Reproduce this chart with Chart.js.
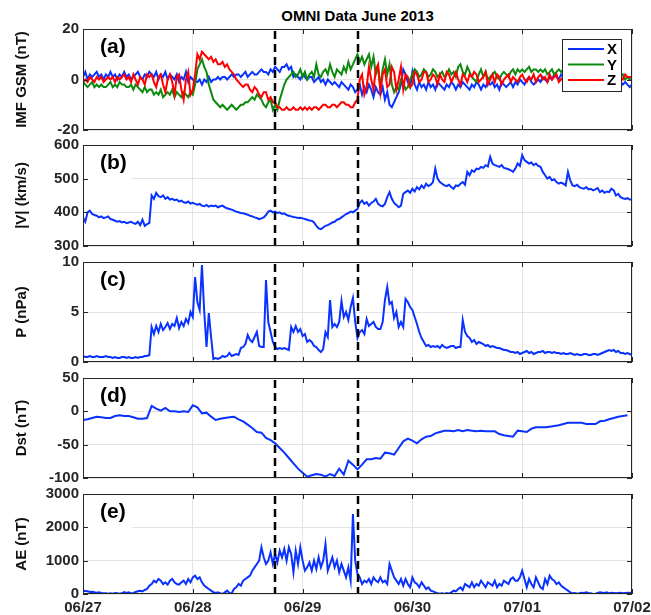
<!DOCTYPE html>
<html>
<head>
<meta charset="utf-8">
<script src="https://cdn.jsdelivr.net/npm/chart.js@4.4.0/dist/chart.umd.min.js"></script>
<style>
  html, body { margin: 0; padding: 0; background: #fff; }
  #wrap { position: relative; width: 651px; height: 615px; overflow: hidden; }
  .panel { position: absolute; left: 0; width: 651px; }
  #title { position: absolute; top: 7px; left: 83px; width: 549px; text-align: center;
           font: bold 15px "Liberation Sans", Arial, sans-serif; color: #000; }
</style>
</head>
<body>
<div id="wrap">
  <div id="title">OMNI Data June 2013</div>
  <div class="panel" id="pa"><canvas id="ca"></canvas></div>
  <div class="panel" id="pb"><canvas id="cb"></canvas></div>
  <div class="panel" id="pc"><canvas id="cc"></canvas></div>
  <div class="panel" id="pd"><canvas id="cd"></canvas></div>
  <div class="panel" id="pe"><canvas id="ce"></canvas></div>
</div>
<script>
// time axis in hours from 06/27 00:00
const dayLabels = ['06/27', '06/28', '06/29', '06/30', '07/01', '07/02']
const eventHours = [42, 60]   // dashed lines: 06/28 18:00 and 06/29 12:00

// half-hourly samples (10 per row = 5 hours)
const imfX = [
  1, 3, 0, 2, 1, 2, 3, 1, 2, 0,
  2, 1, 3, 1, 2, 0, 2, 1, 3, 1,
  2, 0, 1, 2, 3, 1, 0, 2, 1, 3,
  2, 1, 3, 0, 2, 1, 3, 0, 2, 1,
  0, 2, -1, 1, 0, 3, -1, 1, 0, -1,
  -1, 0, -2, 0, -1, 1, -1, 0, 0, 1,
  0, 1, 1, 0, 1, 2, 1, 2, 2, 1,
  2, 3, 1, 2, 3, 2, 2, 3, 4, 3,
  3, 2, 4, 3, 5, 4, 3, 5, 5, 6,
  4, 5, 1, 2, 1, 0, 2, 1, 0, 1,
  1, -1, 0, 1, -1, 0, -2, 0, -1, -2,
  -1, -2, -3, -1, -2, -3, -4, -2, -3, -5,
  -4, -2, -6, -3, -5, -2, -4, -7, -3, -5,
  -6, -3, -8, -5, -10, -11, -9, -7, -5, -2,
  4, 2, -1, -3, 3, -2, -4, -1, -3, -2,
  -4, -1, -3, -2, -4, -1, -2, -3, -4, -2,
  -3, -1, -2, -4, -2, -3, -1, -2, -3, -4,
  -2, -3, -1, -2, -4, -2, -3, -1, -2, -1,
  -3, -2, -4, -1, -2, -3, -2, -1, -3, -1,
  -2, 0, -1, -2, 0, 1, -1, -2, -1, 0,
  -1, 1, 0, -1, 1, 0, 2, 1, 0, 2,
  1, 3, 0, 1, 2, 0, -1, 1, 0, -1,
  1, -1, 0, 1, -1, 0, 1, -1, 0, -1,
  -1, -2, 0, -1, -2, -1, -2, -1, -2, -3,
  -2
]
const imfY = [
  -1, -2, -3, -2, -1, -3, -2, -3, -2, -3,
  -3, -2, -1, -3, -2, -3, -1, -2, -2, -3,
  -3, -2, -4, -2, -3, -4, -5, -3, -5, -4,
  -4, -6, -5, -6, -4, -7, -6, -5, -6, -4,
  -7, -5, -6, -7, -5, -6, -7, -5, -6, -2,
  4, 6, 8, 5, 3, -2, -5, -8, -9, -10,
  -11, -10, -11, -12, -11, -10, -11, -12, -11, -10,
  -10, -9, -9, -8, -7, -8, -6, -7, -8, -10,
  -11, -9, -8, -12, -10, -12, -8, -5, -2, 0,
  1, 2, 3, 1, 2, 4, 1, 3, 0, 2,
  3, 1, 6, 2, 1, 3, 4, 2, 6, 3,
  1, 4, 3, 2, 5, 3, 7, 4, 6, 8,
  10, 7, 9, 6, 8, 10, 5, 9, 2, 5,
  -3, 4, 8, 2, 6, -2, -5, -3, -4, 0,
  -1, -4, -3, 0, 2, 4, 3, 1, 2, 4,
  3, 1, 2, 4, 3, 1, 2, 3, 1, 2,
  4, 2, 3, 1, 5, 6, 3, 2, 5, 3,
  1, 0, -1, 2, 4, 1, 3, 0, 1, 2,
  3, 1, 0, 2, 3, 2, 1, 3, 4, 2,
  4, 3, 4, 3, 4, 5, 3, 4, 4, 3,
  4, 3, 4, 2, 3, 4, 2, 3, 4, 3,
  4, 3, 3, 2, 4, 3, 2, 3, 3, 2,
  1, 2, 1, 0, 2, 1, 2, 1, 0, 1,
  0, 1, 2, 1, 0, 1, 2, 0, 1, 0,
  0
]
const imfZ = [
  -1, 0, -1, 1, 0, -1, 1, 0, 1, -1,
  0, 1, 0, 1, -1, 1, 0, 1, 2, 0,
  1, -1, 2, 0, -2, 1, 0, -2, 2, 1,
  2, -1, -3, 1, 2, -2, -5, 0, 2, -1,
  -6, 1, 2, -4, -8, 0, 3, -6, -4, 2,
  10, 8, 11, 10, 9, 8, 9, 7, 8, 6,
  6, 7, 5, 6, 4, 3, 2, 0, -1, -2,
  -3, -2, -2, -4, -5, -3, -4, -6, -7, -5,
  -5, -8, -7, -9, -9, -11, -11, -12, -12, -11,
  -12, -12, -11, -12, -12, -11, -12, -11, -12, -11,
  -12, -11, -11, -12, -11, -10, -10, -11, -11, -10,
  -10, -11, -10, -9, -9, -10, -10, -11, -11, -9,
  -8, 0, 2, -6, -3, 5, 0, -4, 4, 6,
  -5, 2, 4, -3, -2, 5, 3, -4, 0, 5,
  -4, 2, 1, -3, -2, 3, 2, -1, 0, 3,
  3, -1, 0, 2, 1, -2, 2, 0, -1, 3,
  2, -1, 1, 3, 0, -2, 2, 1, -1, 2,
  1, 3, 2, -1, 0, 1, 3, -2, 0, 2,
  -1, 2, 1, -2, 0, 1, 2, -1, 1, 0,
  -1, 1, 2, 0, -1, 1, 0, 2, -1, 1,
  2, 0, 1, -1, 2, 0, 1, 2, -1, 0,
  1, -1, 0, 2, 1, -1, 0, 1, -1, 0,
  1, 0, -1, 0, 1, 0, 2, -1, 0, 1,
  2, 1, 0, 1, 2, 1, 0, 2, 1, 1,
  1
]
const speed = [
  385, 372, 400, 405, 395, 392, 390, 385, 388, 383,
  385, 388, 380, 378, 375, 372, 374, 370, 372, 368,
  370, 372, 368, 366, 372, 362, 378, 360, 365, 368,
  450, 440, 458, 448, 445, 450, 440, 445, 438, 440,
  436, 438, 432, 435, 430, 428, 432, 426, 428, 425,
  423, 425, 420, 418, 422, 417, 420, 418, 420, 415,
  418, 420, 415, 412, 410, 408, 405, 402, 400, 398,
  397, 395, 393, 390, 388, 385, 383, 380, 382, 385,
  392, 402, 405, 400, 402, 398, 400, 395, 397, 392,
  390, 388, 386, 385, 383, 384, 382, 380, 378, 376,
  375, 370, 360, 352, 350, 355, 360, 362, 366, 370,
  372, 378, 380, 385, 390, 395, 398, 402, 400, 405,
  410, 428, 435, 425, 430, 420, 428, 432, 440, 425,
  420, 418, 425, 445, 460, 440, 428, 422, 415, 420,
  455, 460, 465, 458, 470, 462, 475, 468, 480, 472,
  485, 478, 482, 490, 530, 500, 490, 485, 480, 478,
  482, 475, 470, 480, 478, 485, 490, 482, 520, 510,
  525, 520, 530, 528, 535, 532, 540, 536, 565, 545,
  540, 538, 535, 540, 532, 530, 528, 525, 520, 530,
  545, 538, 570, 555, 550, 545, 548, 540, 545, 538,
  535, 520, 510, 500, 505, 495, 498, 490, 485, 488,
  485, 480, 520, 495, 480, 478, 482, 475, 472, 470,
  475, 468, 470, 465, 468, 472, 460, 465, 458, 462,
  460, 470, 465, 450, 455, 445, 442, 440, 442, 438,
  438
]
const pressure = [
  0.6, 0.5, 0.5, 0.6, 0.5, 0.5, 0.6, 0.5, 0.5, 0.5,
  0.6, 0.5, 0.5, 0.4, 0.5, 0.4, 0.4, 0.5, 0.5, 0.4,
  0.5, 0.4, 0.4, 0.5, 0.4, 0.5, 0.5, 0.6, 0.6, 0.7,
  3.5, 2.8, 3.6, 3.0, 3.8, 3.2, 3.5, 3.9, 3.3, 3.8,
  3.6, 4.4, 3.4, 4.0, 3.6, 4.3, 3.9, 5.0, 4.5, 8.5,
  6.0, 5.2, 9.7, 5.0, 1.5, 4.9, 2.5, 0.3, 0.4, 0.3,
  0.4, 0.6, 0.5, 0.6, 0.9, 0.6, 0.7, 0.8, 0.7, 1.4,
  1.5, 1.8, 2.7, 2.2, 2.0, 2.5, 3.0, 1.6, 1.5, 1.5,
  8.2, 4.0, 3.0, 2.0, 1.5, 1.3, 1.4, 1.3, 1.4, 1.3,
  1.2, 3.5, 3.0, 3.6, 3.0, 3.3, 2.6, 2.8, 2.0, 2.2,
  2.0, 1.6, 1.5, 1.2, 1.0, 1.3, 3.0, 2.5, 6.2, 3.5,
  3.8, 3.5, 4.0, 6.1, 4.5, 5.0, 4.2, 5.5, 6.4, 4.0,
  2.4, 3.0, 3.2, 2.8, 4.3, 3.6, 3.8, 4.0, 3.5, 3.3,
  3.3, 4.0, 6.2, 7.5, 5.8, 6.0, 4.4, 5.0, 3.5, 4.0,
  3.5, 6.3, 6.0, 5.5, 5.2, 4.5, 3.8, 3.0, 2.4, 2.0,
  1.6, 1.7, 1.5, 1.6, 1.5, 1.6, 1.4, 1.7, 1.5, 1.4,
  1.5, 1.6, 1.6, 1.4, 1.5, 1.5, 4.2, 3.0, 2.6, 2.4,
  2.0, 2.2, 1.8, 2.0, 1.9, 1.8, 1.6, 1.7, 1.5, 1.6,
  1.5, 1.4, 1.4, 1.3, 1.2, 1.2, 1.1, 1.0, 1.0, 0.9,
  1.0, 0.8, 0.9, 1.0, 1.1, 0.9, 1.0, 0.8, 0.9, 1.0,
  1.0, 1.1, 0.9, 1.0, 1.0, 0.9, 1.0, 0.9, 0.9, 0.8,
  0.9, 0.8, 0.8, 0.9, 0.8, 0.7, 0.8, 0.7, 0.7, 0.8,
  0.8, 0.7, 0.7, 0.8, 0.8, 0.7, 0.8, 0.9, 1.0, 1.1,
  1.2, 1.1, 1.2, 1.0, 1.1, 0.9, 0.9, 0.8, 0.9, 0.8,
  0.7
]
const ae = [
  100, 90, 80, 60, 70, 50, 40, 50, 30, 20,
  20, 10, 20, 10, 30, 20, 10, 20, 60, 30,
  50, 20, 30, 60, 80, 100, 80, 120, 150, 250,
  300, 400, 350, 450, 400, 300, 350, 280, 400, 450,
  350, 300, 280, 350, 400, 300, 450, 350, 500, 550,
  450, 500, 350, 250, 200, 150, 100, 50, 30, 50,
  20, 0, 50, 100, 30, 20, 150, 200, 300, 250,
  400, 450, 500, 550, 700, 800, 900, 1000, 1400, 1100,
  900, 1000, 1250, 900, 1200, 950, 1300, 1100, 1350, 1000,
  1400, 1200, 650, 1300, 900, 1400, 1000, 700, 800, 950,
  700, 1000, 750, 1100, 800, 1000, 1500, 700, 900, 1100,
  800, 1000, 650, 900, 700, 500, 800, 400, 2400, 1000,
  600, 500, 300, 400, 350, 450, 300, 500, 400, 350,
  500, 350, 400, 300, 900, 700, 500, 400, 300, 450,
  250, 450, 300, 200, 500, 350, 300, 200, 350, 250,
  150, 200, 100, 80, 50, 20, 10, 20, 0, 30,
  10, 50, 100, 80, 150, 200, 120, 300, 250, 200,
  350, 200, 300, 250, 400, 300, 200, 350, 300, 250,
  400, 200, 300, 250, 400, 350, 300, 450, 500, 400,
  400, 500, 700, 450, 200, 450, 300, 200, 500, 350,
  200, 150, 450, 300, 550, 450, 400, 300, 350, 250,
  200, 150, 100, 50, 20, 30, 10, 20, 40, 30,
  50, 30, 20, 0, 10, 30, 50, 40, 30, 50,
  20, 40, 30, 20, 30, 40, 20, 30, 40, 30,
  50
]
// hourly Dst
const dst = [
  -13, -12, -10, -8, -9, -10, -10, -7, -6, -7,
  -7, -9, -11, -11, -10, 8, 4, 1, 5, 0,
  0, -1, 0, -1, 9, 6, -3, -2, -8, -13,
  -11, -10, -9, -8, -12, -15, -20, -25, -31, -32,
  -40, -43, -48, -55, -62, -70, -78, -86, -92, -98,
  -96, -94, -95, -98, -94, -97, -86, -95, -74, -80,
  -87, -80, -72, -72, -70, -71, -62, -63, -65, -55,
  -45, -41, -44, -48, -42, -38, -37, -33, -31, -29,
  -29, -30, -28, -30, -28, -29, -30, -29, -30, -30,
  -30, -34, -36, -37, -38, -29, -30, -31, -26, -24,
  -24, -24, -23, -22, -21, -19, -17, -17, -17, -17,
  -19, -19, -19, -15, -14, -12, -10, -8, -7, -6
]

const halfHours = imfX.map((v, i) => i / 2)
const hours = dst.map((v, i) => i)

const BLUE = '#0a32ff'
const GREEN = '#0b8a0b'
const RED = '#ff0000'
const INK = '#262626'
const FONT = '"Liberation Sans", Arial, sans-serif'

Chart.defaults.font.family = FONT
Chart.defaults.font.size = 15
Chart.defaults.font.weight = 'bold'
Chart.defaults.color = INK

// frame, inward ticks, dashed event lines, panel letter, legend
const decor = {
  id: 'decor',
  beforeDatasetsDraw(chart) {
    const a = chart.chartArea
    const ctx = chart.ctx
    ctx.save()
    ctx.fillStyle = '#fff'
    ctx.fillRect(a.left + 1, a.top + 1, 48, 36)
    ctx.restore()
  },
  afterDatasetsDraw(chart, args, opts) {
    const a = chart.chartArea
    const ctx = chart.ctx
    const x = chart.scales.x
    const y = chart.scales.y
    ctx.save()

    // dashed lines
    ctx.strokeStyle = '#000'
    ctx.lineWidth = 2.5
    ctx.setLineDash([8, 5])
    eventHours.forEach(h => {
      const px = Math.round(x.getPixelForValue(h))
      ctx.beginPath()
      ctx.moveTo(px, a.top + 2)
      ctx.lineTo(px, a.bottom)
      ctx.stroke()
    })
    ctx.setLineDash([])

    // panel letter
    ctx.fillStyle = '#000'
    ctx.font = 'bold 21px ' + FONT
    ctx.textBaseline = 'middle'
    ctx.textAlign = 'left'
    ctx.fillText(opts.letter, a.left + 17, a.top + 18)

    // legend
    if (opts.legend) {
      const ds = chart.data.datasets
      const lx = a.right - 70, ly = a.top + 10
      ctx.fillStyle = '#fff'
      ctx.fillRect(lx, ly, 59, 52)
      ctx.strokeStyle = INK
      ctx.lineWidth = 1
      ctx.strokeRect(lx + 0.5, ly + 0.5, 59, 52)
      ctx.font = 'bold 15px ' + FONT
      ds.forEach((d, i) => {
        const yy = ly + 10 + i * 15.5
        ctx.strokeStyle = d.borderColor
        ctx.lineWidth = 2
        ctx.beginPath()
        ctx.moveTo(lx + 6, yy)
        ctx.lineTo(lx + 42, yy)
        ctx.stroke()
        ctx.fillStyle = '#000'
        ctx.fillText(d.label, lx + 45, yy + 1)
      })
    }

    // frame
    ctx.strokeStyle = INK
    ctx.lineWidth = 1
    ctx.strokeRect(a.left + 0.5, a.top + 0.5, a.width - 1, a.height - 1)

    // inward ticks
    ctx.beginPath()
    x.ticks.forEach(t => {
      const px = Math.round(x.getPixelForValue(t.value)) + 0.5
      ctx.moveTo(px, a.top); ctx.lineTo(px, a.top + 5)
      ctx.moveTo(px, a.bottom); ctx.lineTo(px, a.bottom - 5)
    })
    y.ticks.forEach(t => {
      const py = Math.round(y.getPixelForValue(t.value)) + 0.5
      ctx.moveTo(a.left, py); ctx.lineTo(a.left + 5, py)
      ctx.moveTo(a.right, py); ctx.lineTo(a.right - 5, py)
    })
    ctx.stroke()
    ctx.restore()
  }
}

function makePanel(id, top, bottom, times, datasets, yMin, yMax, yStep, yTitle, letter, showX, legend) {
  const padTop = 10
  const xH = showX ? 24 : 0
  const padBottom = showX ? 0 : 10
  const h = (bottom - top) + padTop + padBottom + xH
  const box = document.getElementById('p' + id)
  box.style.top = (top - padTop) + 'px'
  box.style.height = h + 'px'
  const cv = document.getElementById('c' + id)
  cv.width = 651
  cv.height = h

  return new Chart(cv.getContext('2d'), {
    type: 'line',
    data: { labels: times, datasets: datasets },
    plugins: [decor],
    options: {
      responsive: false,
      animation: false,
      events: [],
      layout: { padding: { top: padTop, bottom: padBottom, left: 0, right: 19 } },
      elements: { point: { radius: 0 }, line: { borderWidth: 2, tension: 0 } },
      plugins: {
        legend: { display: false },
        tooltip: { enabled: false },
        decor: { letter: letter, legend: legend }
      },
      scales: {
        x: {
          type: 'linear',
          min: 0,
          max: 120,
          border: { display: false },
          grid: { color: '#e4e4e4', drawTicks: false },
          ticks: {
            display: showX,
            stepSize: 24,
            padding: 5,
            color: INK,
            maxRotation: 0,
            callback: v => dayLabels[v / 24]
          },
          afterFit: s => { s.height = xH; s.paddingLeft = 0; s.paddingRight = 0 }
        },
        y: {
          min: yMin,
          max: yMax,
          border: { display: false },
          grid: { color: '#e4e4e4', drawTicks: false },
          ticks: { stepSize: yStep, padding: 4, color: INK, callback: v => String(v) },
          title: { display: true, text: yTitle, color: '#111', font: { size: 15, weight: 'bold' }, padding: { top: 13, bottom: 0 } },
          afterFit: s => { s.width = 83; s.paddingTop = 0; s.paddingBottom = 0 }
        }
      }
    }
  })
}

const line = (label, data, color, order) => ({ label, data, borderColor: color, backgroundColor: color, order })

makePanel('a', 29, 130, halfHours, [
  line('X', imfX, BLUE, 3),
  line('Y', imfY, GREEN, 2),
  line('Z', imfZ, RED, 1)
], -20, 20, 20, 'IMF GSM (nT)', '(a)', false, true)

makePanel('b', 145, 246, halfHours, [line('V', speed, BLUE, 1)], 300, 600, 100, '|V| (km/s)', '(b)', false, false)
makePanel('c', 262, 362, halfHours, [line('P', pressure, BLUE, 1)], 0, 10, 5, 'P (nPa)', '(c)', false, false)
makePanel('d', 378, 478, hours, [line('Dst', dst, BLUE, 1)], -100, 50, 50, 'Dst (nT)', '(d)', false, false)
makePanel('e', 494, 594, halfHours, [line('AE', ae, BLUE, 1)], 0, 3000, 1000, 'AE (nT)', '(e)', true, false)
</script>
</body>
</html>
